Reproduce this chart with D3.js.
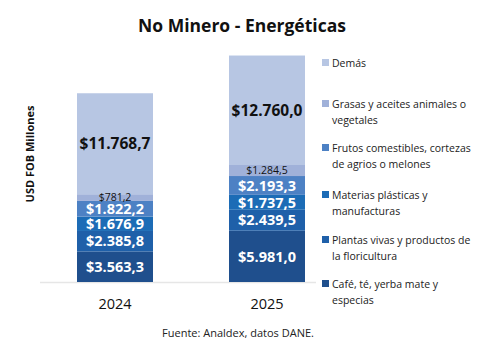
<!DOCTYPE html>
<html><head><meta charset="utf-8">
<script src="https://cdn.jsdelivr.net/npm/d3@7"></script>
<style>body{margin:0;background:#fff}svg{display:block;font-family:"Open Sans",sans-serif}</style>
</head><body><svg id="c" width="485" height="358"></svg>
<script>
const years = ["2024", "2025"];
const seriesNames = ["Café, té, yerba mate y especias","Plantas vivas y productos de la floricultura","Materias plásticas y manufacturas","Frutos comestibles, cortezas de agrios o melones","Grasas y aceites animales o vegetales","Demás"];
const cafe = [3563.3, 5981.0];
const plantas = [2385.8, 2439.5];
const materias = [1676.9, 1737.5];
const frutos = [1822.2, 2193.3];
const grasas = [781.2, 1284.5];
const demas = [11768.7, 12760.0];
const legendLines = [["Demás"],["Grasas y aceites animales o","vegetales"],["Frutos comestibles, cortezas","de agrios o melones"],["Materias plásticas y","manufacturas"],["Plantas vivas y productos de","la floricultura"],["Café, té, yerba mate y","especias"]];
const colors = ["#1f4f8d","#1f60a9","#1c6cb6","#4d81c4","#a0b1d9","#b7c6e3"];

const values = [cafe, plantas, materias, frutos, grasas, demas];
const rows = years.map((y,i)=>{const o={year:y}; seriesNames.forEach((s,k)=>o[s]=values[k][i]); return o;});
const stack = d3.stack().keys(seriesNames)(rows);

const svg = d3.select("#c");
const x = d3.scaleBand().domain(years).range([39,343]).paddingInner(0.5).paddingOuter(0.25);
const y = d3.scaleLinear().domain([0,30000]).range([282,24.6]);

svg.append("text").attr("x",242).attr("y",32).attr("text-anchor","middle")
  .attr("font-size",17.5).attr("font-weight",700).attr("fill","#111").text("No Minero - Energéticas");

svg.append("line").attr("x1",40).attr("x2",316).attr("y1",282.5).attr("y2",282.5).attr("stroke","#e6e6e6").attr("stroke-width",1.5);

stack.forEach((layer,k)=>{
  svg.append("g").selectAll("rect").data(layer).join("rect")
    .attr("x",d=>x(d.data.year)).attr("width",x.bandwidth())
    .attr("y",d=>y(d[1])).attr("height",d=>y(d[0])-y(d[1]))
    .attr("fill",colors[k]);
});

const fmt = v => "$" + d3.format(",.1f")(v).replace(/,/g,"#").replace(".",",").replace(/#/g,".");
stack.forEach((layer,k)=>{
  svg.append("g").selectAll("text").data(layer).join("text")
    .attr("x",d=>x(d.data.year)+x.bandwidth()/2)
    .attr("y",d=>(y(d[0])+y(d[1]))/2)
    .attr("dy", k===4 ? "0.35em" : "0.36em")
    .attr("text-anchor","middle")
    .attr("font-weight", k===4 ? 400 : 700)
    .attr("font-size", k===4 ? 10.5 : (k===5 ? 15.5 : 14.5))
    .attr("fill", k>=4 ? "#111" : "#fff")
    .text(d=>fmt(d[1]-d[0]));
});

svg.append("g").attr("transform","translate(0,282)")
  .call(d3.axisBottom(x).tickSize(0).tickPadding(17))
  .call(g=>g.select(".domain").remove())
  .call(g=>g.selectAll("text").attr("font-size",14.5).attr("fill","#111").attr("font-family","Open Sans"));

svg.append("text").attr("transform","translate(34,154) rotate(-90)").attr("text-anchor","middle")
  .attr("font-size",11).attr("font-weight",700).attr("fill","#111").text("USD FOB Millones");

const legY = [63,104,148,195,240,284];
const lg = svg.append("g");
legendLines.forEach((lines,i)=>{
  const k = 5-i;
  lg.append("rect").attr("x",322).attr("y",legY[i]-4).attr("width",7).attr("height",7).attr("fill",colors[k]);
  lines.forEach((t,j)=>{
    lg.append("text").attr("x",332).attr("y",legY[i]+j*16).attr("dy","0.35em")
      .attr("font-size",10.5).attr("fill","#222").text(t);
  });
});

svg.append("text").attr("x",238).attr("y",337).attr("text-anchor","middle")
  .attr("font-size",11).attr("fill","#222").text("Fuente: Analdex, datos DANE.");
</script></body></html>
